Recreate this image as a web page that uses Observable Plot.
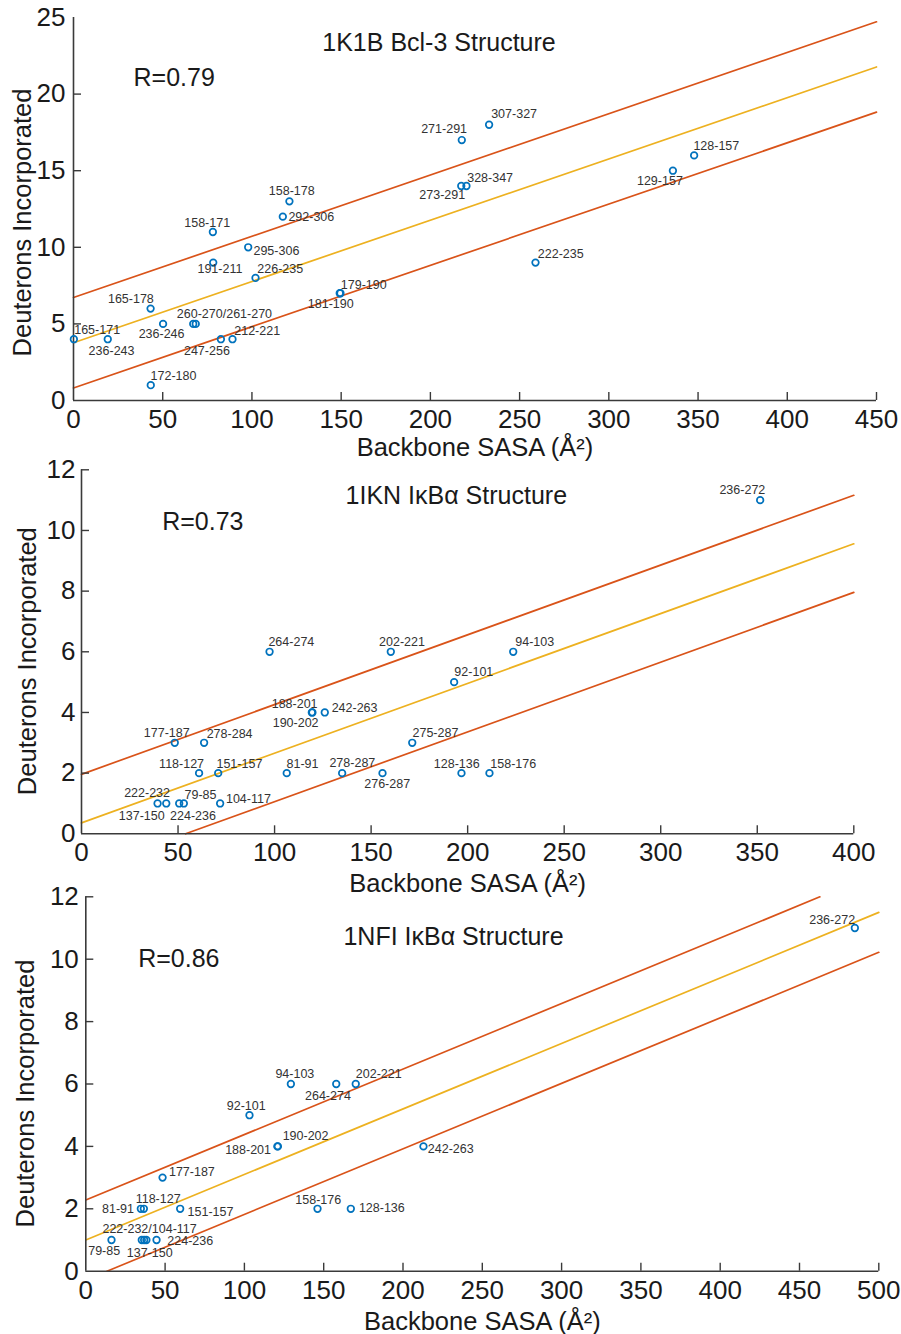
<!DOCTYPE html>
<html><head><meta charset="utf-8">
<script src="https://cdn.jsdelivr.net/npm/d3@7"></script>
<script src="https://cdn.jsdelivr.net/npm/@observablehq/plot@0.6"></script>
<style>
html,body{margin:0;padding:0;background:#fff;}
#chart{width:901px;height:1334px;position:relative;overflow:hidden;}
#chart svg{overflow:visible;display:block;}
</style></head><body><div id="chart"></div>
<script>
// ---------- Panel 1: 1K1B Bcl-3 ----------
const p1Title = "1K1B Bcl-3 Structure";
const p1R = "R=0.79";
const p1Peptides = ["165-171","236-243","165-178","172-180","236-246","260-270","261-270","247-256","212-221","158-171","191-211","295-306","226-235","158-178","292-306","179-190","181-190","271-291","307-327","273-291","328-347","222-235","129-157","128-157"];
const p1Labels   = ["165-171","236-243","165-178","172-180","236-246","260-270/261-270","","247-256","212-221","158-171","191-211","295-306","226-235","158-178","292-306","179-190","181-190","271-291","307-327","273-291","328-347","222-235","129-157","128-157"];
const p1Sasa = [0.2,19.2,43.2,43.3,50.2,67.1,68.5,82.6,89.1,78.1,78.3,97.9,102,121,117.3,149.6,149.2,217.6,232.9,217.3,220.2,258.9,335.9,347.8];
const p1Deut = [4,4,6,1,5,5,5,4,4,11,9,10,8,13,12,7,7,17,18,14,14,9,15,16];
const p1Fit = {intercept: 3.77, slope: 0.04, band: 2.95};
const p1XTicks = [0,50,100,150,200,250,300,350,400,450];
const p1YTicks = [0,5,10,15,20,25];

// ---------- Panel 2: 1IKN IκBα ----------
const p2Title = "1IKN IκBα Structure";
const p2R = "R=0.73";
const p2Peptides = ["264-274","202-221","188-201","190-202","242-263","177-187","278-284","118-127","151-157","81-91","278-287","276-287","222-232","137-150","79-85","224-236","104-117","275-287","92-101","94-103","128-136","158-176","236-272"];
const p2Labels = p2Peptides.slice();
const p2Sasa = [97.4,160.2,119.3,119.6,126,48.3,63.5,60.9,70.8,106.3,135,155.9,39.4,43.9,50.6,53.0,71.8,171.3,193,223.6,196.8,211.3,351.5];
const p2Deut = [6,6,4,4,4,3,3,2,2,2,2,2,1,1,1,1,1,3,5,6,2,2,11];
const p2Fit = {intercept: 0.36, slope: 0.023, band: 1.6};
const p2XTicks = [0,50,100,150,200,250,300,350,400];
const p2YTicks = [0,2,4,6,8,10,12];

// ---------- Panel 3: 1NFI IκBα ----------
const p3Title = "1NFI IκBα Structure";
const p3R = "R=0.86";
const p3Peptides = ["94-103","264-274","202-221","92-101","190-202","188-201","242-263","177-187","81-91","118-127","151-157","158-176","128-136","79-85","222-232","104-117","137-150","224-236","236-272"];
const p3Labels   = ["94-103","264-274","202-221","92-101","190-202","188-201","242-263","177-187","81-91","118-127","151-157","158-176","128-136","79-85","222-232/104-117","","137-150","224-236","236-272"];
const p3Sasa = [129.3,157.9,170.2,103.2,121.1,120.8,212.9,48.4,34.7,36.6,59.5,146.1,167.1,16.2,35.3,36.8,38.2,44.6,484.9];
const p3Deut = [6,6,6,5,4,4,4,3,2,2,2,2,2,1,1,1,1,1,11];
const p3Fit = {intercept: 1.0, slope: 0.021, band: 1.28};
const p3XTicks = [0,50,100,150,200,250,300,350,400,450,500];
const p3YTicks = [0,2,4,6,8,10,12];

const xLabel = "Backbone SASA (Å²)";
const yLabel = "Deuterons Incorporated";

// ---------- label placement (pixel offsets from marker centre) ----------
const p1LabelDx = [23.3,3.8,-19.7,22.7,-1.5,31.2,0,-14,24.7,-5.7,6.7,28.2,24.7,2.3,28.5,23.3,-9,-17.7,25,-19,23.7,25.3,-13,22.2];
const p1LabelDy = [-9.7,12,-9.7,-8.7,10.3,-10,0,12,-8.7,-8.7,6.3,3.3,-8.7,-10,0.7,-8.7,10.7,-10.7,-10.3,9.3,-8.3,-8.3,10.3,-9.3];
const p2LabelDx = [21.8,11.2,-17.2,-16.8,29.8,-8,25.5,-17.5,21.2,15.8,10.2,4.7,-10.5,-24.5,21.3,9.2,28.3,23.2,19.7,21.5,-4.7,23.8,-17.8];
const p2LabelDy = [-10.3,-10.3,-8.7,10.7,-4.3,-9.7,-8.7,-8.7,-9.3,-9.3,-10.3,10.7,-10.3,12.7,-8.7,12.7,-4,-9.7,-9.7,-9.7,-9.3,-8.7,-10.3];
const p3LabelDx = [4,-8.3,23,-3.2,27.7,-29.3,27.3,29.3,-22.8,14.3,30.3,0.7,31,-7.3,7.8,0,3.3,33.7,-22.7];
const p3LabelDy = [-10.3,12,-10.3,-9.7,-10.7,3.7,3,-5.7,0.3,-10.3,2.7,-9,-0.7,11,-11.3,0,13.3,0.7,-8];

const FONT = "'Liberation Sans', Arial, Helvetica, sans-serif";
const AXIS = "#3a3a3a";
const TXT = "#1a1a1a";
const BLUE = "#0072BD", RED = "#D95319", YEL = "#EDB120";

function panel(c) {
  const data = c.peptides.map((p, i) => ({peptide: p, sasa: c.sasa[i], deut: c.deut[i], label: c.labels[i], dx: c.ldx[i], dy: c.ldy[i]}));
  const xMax = c.xTicks[c.xTicks.length - 1], yMax = c.yTicks[c.yTicks.length - 1];
  const frameW = c.width - c.ml - c.mr;
  const frameH = c.height - c.mt - c.mb;
  const lines = [-1, 0, 1].map(k => {
    const b = c.fit.intercept + k * c.fit.band, m = c.fit.slope;
    const x0 = Math.max(0, -b / m), x1 = Math.min(xMax, (yMax - b) / m);
    return {k, pts: [{x: x0, y: b + m * x0}, {x: x1, y: b + m * x1}]};
  });
  const marks = [
    ...lines.map(l => Plot.line(l.pts, {x: "x", y: "y", stroke: l.k === 0 ? YEL : RED, strokeWidth: 1.7})),
    Plot.ruleX([0], {stroke: AXIS, strokeWidth: 1.6}),
    Plot.ruleY([0], {stroke: AXIS, strokeWidth: 1.6}),
    Plot.tickX(c.xTicks.filter(v => v > 0), {x: d => d, insetTop: frameH - 8, stroke: AXIS, strokeWidth: 1.4}),
    Plot.tickY(c.yTicks.filter(v => v > 0 && c.yTickMarks.includes(v)), {y: d => d, insetRight: frameW - 8, stroke: AXIS, strokeWidth: 1.4}),
    Plot.text(c.xTicks, {x: d => d, frameAnchor: "bottom", lineAnchor: "top", textAnchor: "middle", dy: 9, text: d => String(d), fontSize: 26, fill: TXT}),
    Plot.text(c.yTicks, {y: d => d, frameAnchor: "left", textAnchor: "end", lineAnchor: "middle", dx: -c.yPad, text: d => String(d), fontSize: 26, fill: TXT}),
    Plot.dot(data, {x: "sasa", y: "deut", r: 3.3, stroke: BLUE, strokeWidth: 1.7, fill: "none"}),
    ...data.filter(d => d.label).map(d => Plot.text([d], {x: "sasa", y: "deut", text: "label", textAnchor: "middle", lineAnchor: "middle", dx: d.dx, dy: d.dy, fontSize: 12.5, fill: "#333"})),
    Plot.text([c.title], {frameAnchor: "top-left", dx: c.tdx, dy: c.tdy, lineAnchor: "bottom", textAnchor: "middle", fontSize: 25, fill: TXT}),
    Plot.text([c.r], {frameAnchor: "top-left", dx: c.rdx, dy: c.rdy, lineAnchor: "bottom", textAnchor: "start", fontSize: 25, fill: TXT}),
    Plot.text([xLabel], {frameAnchor: "bottom", dy: c.xldy, lineAnchor: "bottom", textAnchor: "middle", fontSize: 25.5, fill: TXT}),
    Plot.text([yLabel], {frameAnchor: "left", rotate: -90, textAnchor: "middle", lineAnchor: "middle", dx: c.yldx, dy: c.yldy, fontSize: 25.5, fill: TXT})
  ];
  return Plot.plot({
    width: c.width, height: c.height,
    marginTop: c.mt, marginBottom: c.mb, marginLeft: c.ml, marginRight: c.mr,
    x: {domain: [0, xMax], axis: null},
    y: {domain: [0, yMax], axis: null},
    style: {fontFamily: FONT, background: "white", overflow: "visible"},
    marks
  });
}

const chart = document.getElementById("chart");
chart.append(panel({
  peptides: p1Peptides, labels: p1Labels, sasa: p1Sasa, deut: p1Deut, ldx: p1LabelDx, ldy: p1LabelDy,
  fit: p1Fit, xTicks: p1XTicks, yTicks: p1YTicks, yTickMarks: [5,10,15,20], title: p1Title, r: p1R,
  width: 901, height: 458, mt: 17, mb: 58, ml: 73, mr: 25, yPad: 8,
  tdx: 365.5, tdy: 33, rdx: 60, rdy: 68, xldy: 55, yldx: -51, yldy: 13.5
}));
chart.append(panel({
  peptides: p2Peptides, labels: p2Labels, sasa: p2Sasa, deut: p2Deut, ldx: p2LabelDx, ldy: p2LabelDy,
  fit: p2Fit, xTicks: p2XTicks, yTicks: p2YTicks, yTickMarks: [2,4,6,8,10,12], title: p2Title, r: p2R,
  width: 901, height: 435, mt: 11.3, mb: 59.7, ml: 81, mr: 47.7, yPad: 6,
  tdx: 374.8, tdy: 34, rdx: 80.7, rdy: 60, xldy: 58, yldx: -54, yldy: 9.4
}));
chart.append(panel({
  peptides: p3Peptides, labels: p3Labels, sasa: p3Sasa, deut: p3Deut, ldx: p3LabelDx, ldy: p3LabelDy,
  fit: p3Fit, xTicks: p3XTicks, yTicks: p3YTicks, yTickMarks: [2,4,6,8,10,12], title: p3Title, r: p3R,
  width: 901, height: 441, mt: 3.3, mb: 63.3, ml: 85.3, mr: 22.7, yPad: 7,
  tdx: 367.7, tdy: 48, rdx: 52.4, rdy: 69.7, xldy: 58.3, yldx: -60.3, yldy: 9.5
}));
</script></body></html>
